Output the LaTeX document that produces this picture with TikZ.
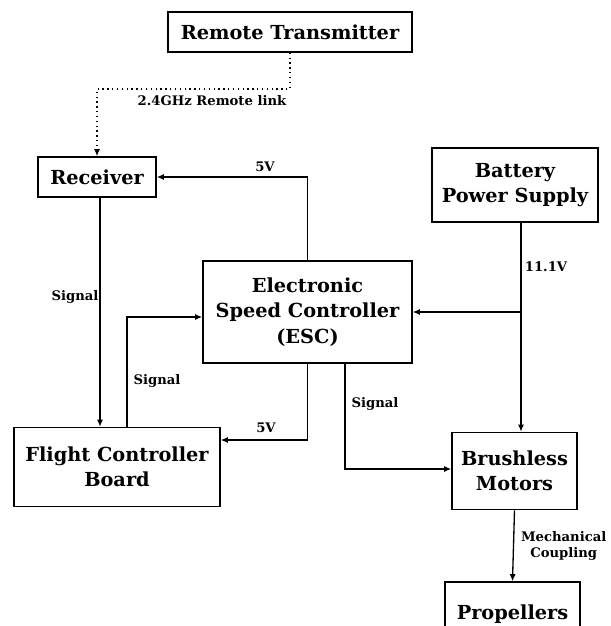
\documentclass[tikz,border=0pt]{standalone}
\usepackage{fontspec}
\setmainfont{DejaVu Serif}
\usetikzlibrary{arrows.meta, positioning}

\begin{document}
\begin{tikzpicture}[
  box/.style={rectangle, draw, line width=0.9pt, fill=white, text centered,
              font=\fontsize{11}{14.5}\selectfont\bfseries, inner sep=2pt},
  lbl/.style={font=\fontsize{7.5}{9}\selectfont\bfseries, inner sep=1pt},
  arrow/.style={-{Latex[length=4pt, width=3.5pt]}, line width=0.75pt},
  link/.style={arrow, dotted, line width=1pt},
  every node/.style={align=center}
]
\clip (0,0) rectangle (12.2,-12.52);

% Blocks
\node[box, minimum width=4.88cm, minimum height=0.8cm]  (rt)  at (5.8,-0.64)   {Remote Transmitter};
\node[box, minimum width=2.36cm, minimum height=0.8cm]  (rcv) at (1.94,-3.54)  {Receiver};
\node[box, minimum width=3.32cm, minimum height=1.48cm] (bps) at (10.3,-3.7)   {Battery\\Power Supply};
\node[box, minimum width=4.18cm, minimum height=2.04cm] (esc) at (6.15,-6.24)  {Electronic\\Speed Controller\\(ESC)};
\node[box, minimum width=4.12cm, minimum height=1.58cm] (fcb) at (2.34,-9.34)  {Flight Controller\\Board};
\node[box, minimum width=2.5cm,  minimum height=1.54cm] (bm)  at (10.29,-9.42) {Brushless\\Motors};
\node[box, minimum width=2.7cm,  minimum height=1.3cm]  (pr)  at (10.25,-12.29) {Propellers};

% Connector labels
\node[lbl] (l_link) at (4.24,-2.02)  {2.4GHz Remote link};
\node[lbl] (l_5va)  at (5.3,-3.34)   {5V};
\node[lbl] (l_sg1)  at (1.5,-5.94)   {Signal};
\node[lbl] (l_sg2)  at (3.14,-7.62)  {Signal};
\node[lbl] (l_5vb)  at (5.32,-8.56)  {5V};
\node[lbl] (l_sg3)  at (7.5,-8.08)   {Signal};
\node[lbl] (l_111)  at (10.92,-5.34) {11.1V};
\node[lbl, anchor=east] (l_mech) at (12.17,-10.92) {Mechanical\\Coupling};

% Connectors
\draw[link]  (rt.south) -- ++(0,-0.72) -| (rcv.north);
\draw[arrow] (esc.north) |- (rcv.east);
\draw[arrow] ([xshift=0.06cm]rcv.south) -- ([xshift=0.06cm]rcv.south |- fcb.north);
\draw[arrow] ([xshift=0.2cm]fcb.north) |- ([yshift=-0.1cm]esc.west);
\draw[arrow] (esc.south) |- ([yshift=0.54cm]fcb.east);
\draw[arrow] ([xshift=0.75cm]esc.south) |- ([yshift=0.04cm]bm.west);
\draw[arrow] ([xshift=0.12cm]bps.south) -- ([xshift=0.12cm]bps.south |- bm.north);
\coordinate (tap) at ([xshift=0.12cm]bps.south |- esc.east);
\draw[arrow] (tap) -- (esc.east);
\draw[arrow] (bm.south) -- (pr.north);

\end{tikzpicture}
\end{document}
